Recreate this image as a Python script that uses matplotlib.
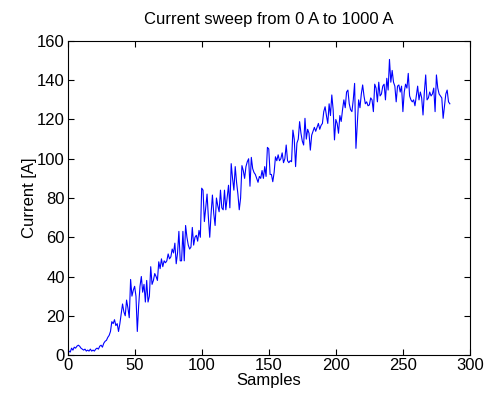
import matplotlib
matplotlib.use("Agg")
import matplotlib.pyplot as plt

# current readings, one per sample
current = [
    0, 2, 1.5, 3.5, 2.5, 4, 3.5, 4.5, 5, 4.5,
    3.5, 3, 2.5, 3, 2, 2.5, 2, 3, 2, 2.5,
    2, 3, 3.5, 3, 4.5, 5, 4, 6, 7, 7.5,
    9, 10, 12, 17, 16, 18, 15, 16, 12, 16,
    21, 26, 22, 20, 28, 24, 19, 38.5, 30, 33,
    35, 30, 12, 25, 35, 40, 32, 36, 27, 38,
    27, 30, 45, 36, 38, 41.5, 40, 38, 47.5, 44,
    49, 45, 48, 47, 48, 51.5, 49, 50, 54, 52,
    57, 46.5, 52, 63, 48, 48, 63, 48, 66, 60,
    56, 54, 55, 65, 56, 60, 61, 58, 63.5, 60,
    85, 84, 68, 75, 82, 70, 60, 72, 81.5, 72,
    66, 80, 76, 73, 84, 75, 74, 84, 74, 80,
    86.5, 75, 97.5, 90, 84, 96, 88, 82, 74, 80,
    96.5, 94, 90, 96, 98.5, 100, 86, 100.7, 95, 93,
    92, 90, 88, 91, 90, 94, 90, 96, 91, 105.8,
    105, 92, 92, 88.3, 93, 101, 99, 102, 99, 100,
    103, 98, 100, 107, 99, 98, 99, 98.5, 114.6, 110,
    96, 108, 110, 118.9, 113, 109, 107, 120.6, 110, 115,
    113, 104.4, 112, 114, 116, 114, 116, 118, 115, 117,
    118, 124, 126.5, 122, 118, 128, 122, 132.5, 125, 109.6,
    120, 118, 113, 122, 119, 125, 130, 126, 134, 135,
    128, 125, 124, 130, 138.4, 105.3, 118, 130, 126, 133,
    137.6, 132, 128, 129, 127, 127.4, 131, 130, 124, 138,
    136, 129, 139, 132, 133, 137, 138, 130, 141, 135,
    150.6, 139, 145, 139, 137, 129, 137, 137.6, 134, 137,
    124, 134, 138, 136, 143.5, 132, 130, 129, 130, 127,
    132, 137, 130, 134, 131, 122.3, 134, 142.7, 130, 131,
    134, 132, 133, 136, 124, 142.7, 136, 133, 132, 131,
    120.6, 127, 133, 135, 129, 128,
]
samples = list(range(len(current)))

xticks = [0, 50, 100, 150, 200, 250, 300]
yticks = [0, 20, 40, 60, 80, 100, 120, 140, 160]

plt.rcParams['font.family'] = ['Liberation Sans', 'DejaVu Sans']

fig = plt.figure(figsize=(4.86, 3.98), dpi=100)
ax = fig.add_axes([0.139, 0.108, 0.828, 0.789])
ax.plot(samples, current, color='#0000ff', linewidth=0.8)
ax.set_xlim(0, 300)
ax.set_ylim(0, 160)
ax.set_xticks(xticks)
ax.set_yticks(yticks)
ax.tick_params(direction='in', top=True, right=True, length=4, labelsize=12, pad=2)
ax.set_xlabel('Samples', fontsize=12, labelpad=0)
ax.set_ylabel('Current [A]', fontsize=12, labelpad=0)
ax.set_title('Current sweep from 0 A to 1000 A', fontsize=12, pad=12)

fig.savefig('out.png', dpi=100)
